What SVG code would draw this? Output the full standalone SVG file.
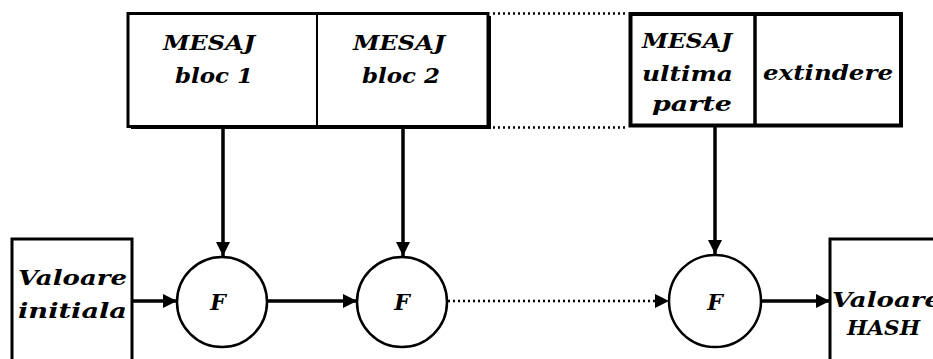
<svg xmlns="http://www.w3.org/2000/svg" width="933" height="359" viewBox="0 0 933 359">
<defs>
<style>
.t{font-family:"DejaVu Serif","Liberation Serif",serif;font-style:italic;font-weight:bold;font-size:21px;fill:#000}
.box{fill:#fff;stroke:#000}
.ln{stroke:#000;stroke-width:3.5;fill:none}
.dot{stroke:#000;stroke-width:2.5;fill:none;stroke-dasharray:2 3}
.circ{fill:#fff;stroke:#000;stroke-width:2.5}
</style>
<marker id="ah" markerUnits="userSpaceOnUse" markerWidth="16" markerHeight="16" refX="14" refY="8" orient="auto">
<path d="M0,1 L14,8 L0,15 Z" fill="#000"/>
</marker>
</defs>
<rect width="933" height="359" fill="#fff"/>

<g id="msg-blocks">
<rect x="131" y="16" width="360" height="113" fill="#000"/>
<rect class="box" x="128" y="13.5" width="360" height="113" stroke-width="3"/>
<line x1="317" y1="13.5" x2="317" y2="126.5" stroke="#000" stroke-width="2"/>
<text class="t" x="163" y="50" textLength="92" lengthAdjust="spacingAndGlyphs">MESAJ</text>
<text class="t" x="175" y="83" textLength="78" lengthAdjust="spacingAndGlyphs">bloc 1</text>
<text class="t" x="353" y="50" textLength="92" lengthAdjust="spacingAndGlyphs">MESAJ</text>
<text class="t" x="362" y="83" textLength="78" lengthAdjust="spacingAndGlyphs">bloc 2</text>
</g>

<g id="msg-last">
<rect class="box" x="630.5" y="14" width="270.5" height="111.5" stroke-width="4"/>
<line x1="755" y1="14" x2="755" y2="125.5" stroke="#000" stroke-width="3.5"/>
<text class="t" x="642" y="48" textLength="90" lengthAdjust="spacingAndGlyphs">MESAJ</text>
<text class="t" x="642" y="81" textLength="91" lengthAdjust="spacingAndGlyphs">ultima</text>
<text class="t" x="652" y="111" textLength="80" lengthAdjust="spacingAndGlyphs">parte</text>
<text class="t" x="763" y="80" textLength="130" lengthAdjust="spacingAndGlyphs">extindere</text>
</g>

<g id="init">
<rect class="box" x="12" y="239" width="120" height="140" stroke-width="3"/>
<text class="t" x="18" y="285" textLength="109" lengthAdjust="spacingAndGlyphs">Valoare</text>
<text class="t" x="18" y="318" textLength="109" lengthAdjust="spacingAndGlyphs">initiala</text>
</g>

<g id="hash">
<rect class="box" x="830" y="239" width="140" height="140" stroke-width="3"/>
<text class="t" x="832" y="307" textLength="109" lengthAdjust="spacingAndGlyphs">Valoare</text>
<text class="t" x="847" y="335" textLength="73" lengthAdjust="spacingAndGlyphs">HASH</text>
</g>

<g id="f1">
<circle class="circ" cx="222" cy="302" r="45"/>
<text class="t" x="218" y="310" text-anchor="middle" style="font-size:22px">F</text>
</g>
<g id="f2">
<circle class="circ" cx="402" cy="302" r="45"/>
<text class="t" x="402" y="310" text-anchor="middle" style="font-size:22px">F</text>
</g>
<g id="f3">
<circle class="circ" cx="715" cy="301" r="46"/>
<text class="t" x="715" y="310" text-anchor="middle" style="font-size:22px">F</text>
</g>

<g id="connectors">
<line class="dot" x1="493" y1="13.5" x2="628" y2="13.5"/>
<line class="dot" x1="493" y1="127.5" x2="628" y2="127.5"/>
<line class="ln" x1="223" y1="128" x2="223" y2="256" marker-end="url(#ah)"/>
<line class="ln" x1="403" y1="128" x2="403" y2="256" marker-end="url(#ah)"/>
<line class="ln" x1="715" y1="127" x2="715" y2="254" marker-end="url(#ah)"/>
<line class="ln" x1="133" y1="301" x2="177" y2="301" marker-end="url(#ah)"/>
<line class="ln" x1="267" y1="301" x2="357" y2="301" marker-end="url(#ah)"/>
<line class="dot" x1="448" y1="301" x2="656" y2="301"/>
<path d="M655,294 L669,301 L655,308 Z" fill="#000"/>
<line class="ln" x1="761" y1="301" x2="830" y2="301" marker-end="url(#ah)"/>
</g>
</svg>
